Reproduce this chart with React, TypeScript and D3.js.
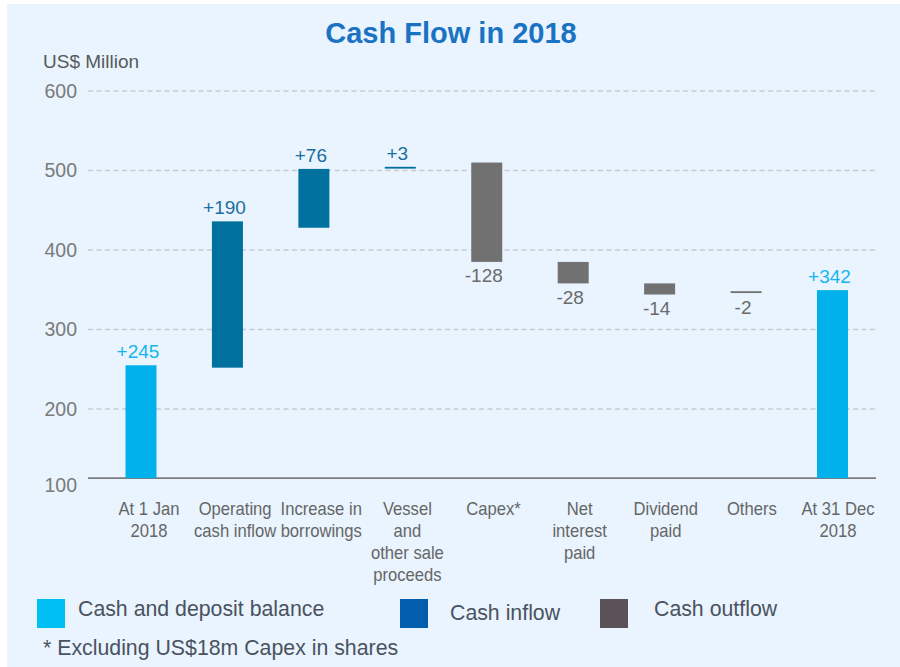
import React from "react";
import * as d3 from "d3";

const categories: string[][] = [
  ["At 1 Jan", "2018"],
  ["Operating", "cash inflow"],
  ["Increase in", "borrowings"],
  ["Vessel", "and", "other sale", "proceeds"],
  ["Capex*"],
  ["Net", "interest", "paid"],
  ["Dividend", "paid"],
  ["Others"],
  ["At 31 Dec", "2018"],
];
const kinds = ["balance", "inflow", "inflow", "inflow", "outflow", "outflow", "outflow", "outflow", "balance"];
const valueLabels = [245, 190, 76, 3, -128, -28, -14, -2, 342];
// bar extents as drawn in the picture (US$ million)
const axisBase = 113;
const barLow = [axisBase, 252, 428, 503.5, 385, 358, 344, 347, axisBase];
const barHigh = [255, 436, 502, 503.5, 510, 385, 358, 347, 349.5];
const yTicks = [100, 200, 300, 400, 500, 600];

const legendItems = [
  { label: "Cash and deposit balance", color: "#00c0f3" },
  { label: "Cash inflow", color: "#005ead" },
  { label: "Cash outflow", color: "#5b5257" },
];

const FONT = "'Liberation Sans', Arial, Helvetica, sans-serif";

export default function App() {
  const W = 900, H = 667;
  const y = d3.scaleLinear().domain([100, 600]).range([488.5, 91]);
  const keys = categories.map((c) => c.join(" "));
  const x = d3.scalePoint<string>().domain(keys).range([141, 832.5]);
  const xLabel = d3.scalePoint<string>().domain(keys).range([149, 838]);
  const bw = 31;
  const barFill: Record<string, string> = { balance: "#00b1ec", inflow: "#00709f", outflow: "#717171" };
  const textFill: Record<string, string> = { balance: "#16b4ec", inflow: "#1b6e9f", outflow: "#6b6b6b" };
  const xL = 88, xR = 876;

  return (
    <svg width={W} height={H} style={{ position: "absolute", left: 0, top: 0, fontFamily: FONT }}>
      <rect x={0} y={0} width={W} height={H} fill="#ffffff" />
      <rect x={7} y={4} width={W - 7} height={H - 4} fill="#e9f4fe" />
      <text x={451} y={43} textAnchor="middle" fontSize={29} fontWeight="bold" fill="#1a72c3">
        Cash Flow in 2018
      </text>
      <text x={43} y={67.5} fontSize={19} fill="#595959">US$ Million</text>
      {yTicks.map((t) => (
        <g key={t}>
          {t > 100 && (
            <line x1={xL} x2={xR} y1={y(t)} y2={y(t)} stroke="#c9ccd0" strokeWidth={1.3} strokeDasharray="5 3.5" />
          )}
          <text x={77} y={t === 100 ? y(t) - 3 : y(t)} dy="0.35em" textAnchor="end" fontSize={19.5} fill="#7a7a7a">
            {t}
          </text>
        </g>
      ))}
      <line x1={xL} x2={xR} y1={y(axisBase)} y2={y(axisBase)} stroke="#7d7d7d" strokeWidth={1.6} />
      {keys.map((k, i) => {
        const top = y(Math.max(barLow[i], barHigh[i]));
        const bot = y(Math.min(barLow[i], barHigh[i]));
        const h = Math.max(bot - top, 1.8);
        const ry = top - (h - (bot - top)) / 2;
        const cx = x(k)!;
        const lx = xLabel(k)!;
        const v = valueLabels[i];
        const label = (v > 0 ? "+" : "") + v;
        const ly = v > 0 ? ry - 7 : ry + h + 20.5;
        return (
          <g key={k}>
            <rect x={cx - bw / 2} y={ry} width={bw} height={h} fill={barFill[kinds[i]]} />
            <text x={cx - 3} y={ly} textAnchor="middle" fontSize={19} fill={textFill[kinds[i]]}>
              {label}
            </text>
            {categories[i].map((line, j) => (
              <text
                key={j}
                transform={`translate(${lx},${515 + j * 22}) scale(0.95,1.1)`}
                textAnchor="middle"
                fontSize={17.5}
                fill="#666666"
              >
                {line}
              </text>
            ))}
          </g>
        );
      })}
      {legendItems.map((item, i) => {
        const sx = [37, 400, 600][i];
        const tx = [78, 450, 654][i];
        const ty = [616, 620, 616][i];
        return (
          <g key={item.label}>
            <rect x={sx} y={599} width={28} height={29} fill={item.color} />
            <text x={tx} y={ty} fontSize={21.3} fill="#4a5260">{item.label}</text>
          </g>
        );
      })}
      <text x={43} y={655} fontSize={21.3} fill="#4a5260">* Excluding US$18m Capex in shares</text>
    </svg>
  );
}
